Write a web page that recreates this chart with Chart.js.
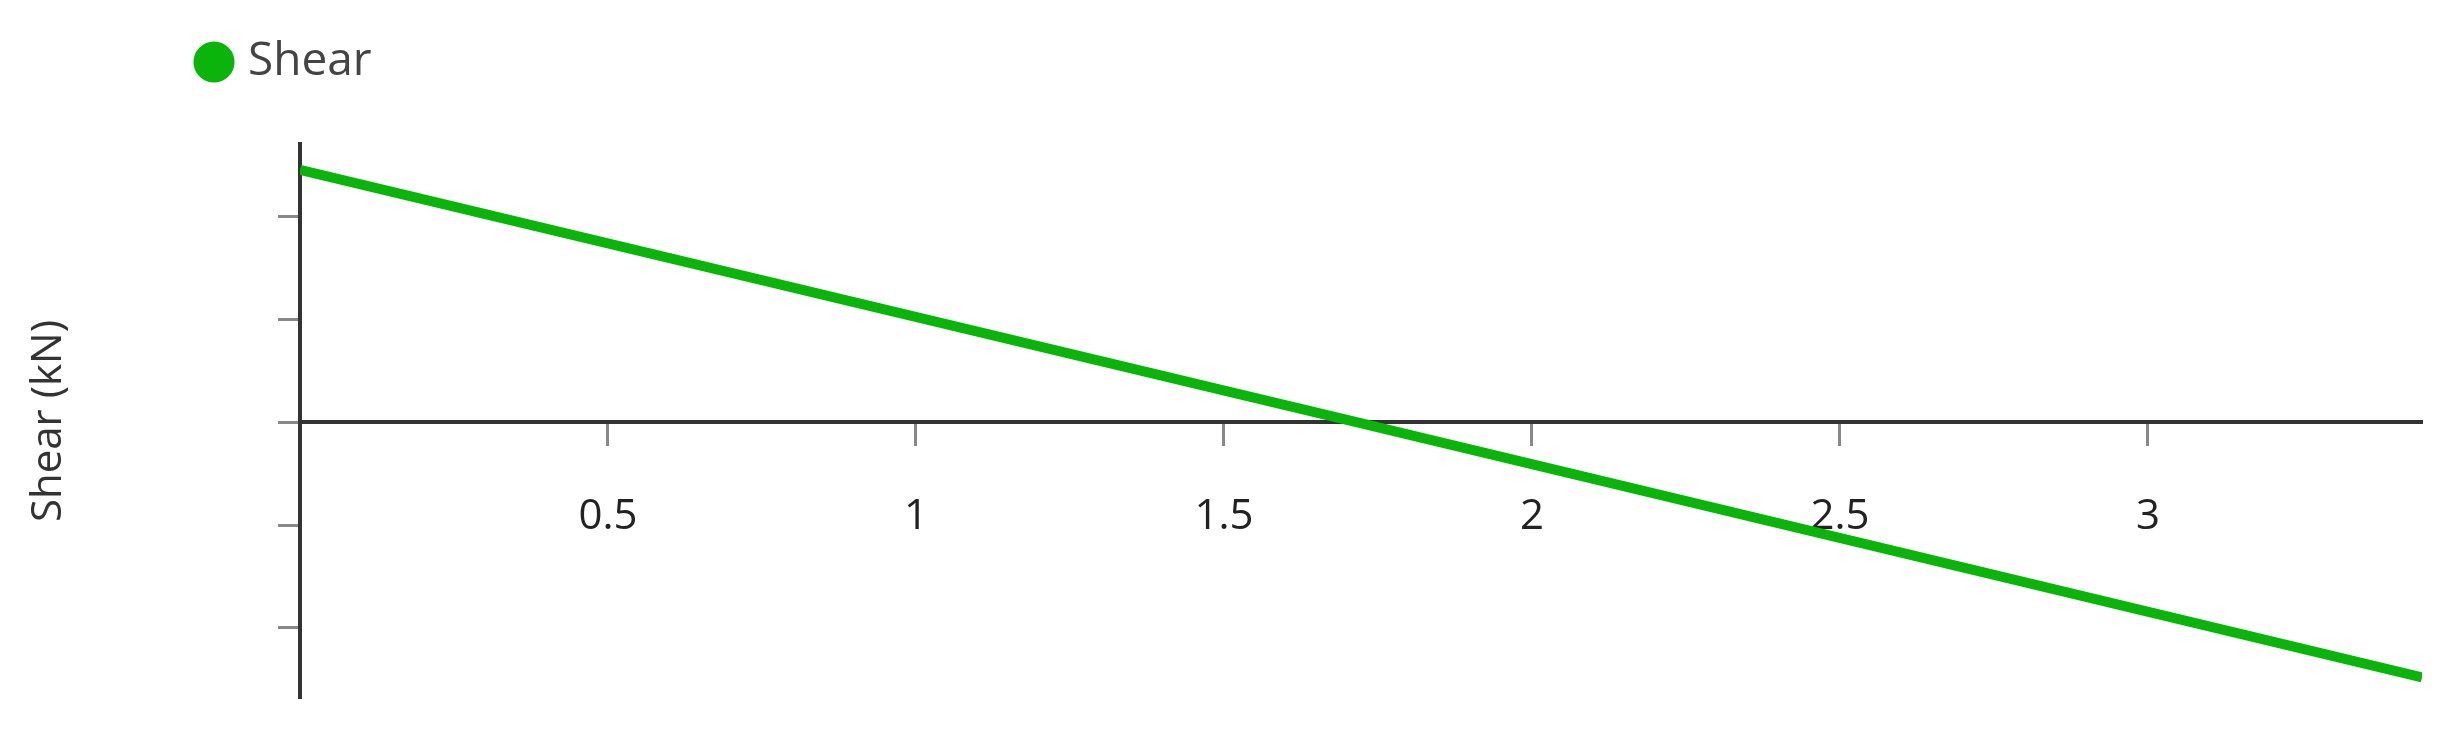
<!DOCTYPE html>
<html>
<head>
<meta charset="utf-8">
<script src="https://cdn.jsdelivr.net/npm/chart.js@4/dist/chart.umd.min.js"></script>
<style>
  html, body { margin: 0; padding: 0; background: #fff; }
  #wrap { width: 2450px; height: 733px; }
</style>
</head>
<body>
<div id="wrap"><canvas id="shearChart" width="2450" height="733"></canvas></div>
<script>
// shear diagram along the beam (x in m, shear in kN)
const positions = [0, 1.715, 3.445];
const shearValues = [24.5, 0, -24.8];
const xTicks = [0.5, 1, 1.5, 2, 2.5, 3];
const seriesName = 'Shear';
const yTitle = 'Shear (kN)';

const green = '#0bb40b';
const font = 'Open Sans';

// move the legend: right and up, away from where the layout puts it
const legendShift = {
  id: 'legendShift',
  afterLayout(chart) {
    chart.legend.left = 183;
    chart.legend.top -= 49;
  }
};

new Chart(document.getElementById('shearChart'), {
  type: 'line',
  data: {
    datasets: [{
      label: seriesName,
      data: positions.map((x, i) => ({ x: x, y: shearValues[i] })),
      borderColor: green,
      backgroundColor: green,
      borderWidth: 10,
      pointRadius: 0,
      tension: 0
    }]
  },
  options: {
    responsive: false,
    animation: false,
    layout: { padding: { left: 0, right: 28, top: 68, bottom: 35 } },
    plugins: {
      tooltip: { enabled: false },
      legend: {
        position: 'top',
        align: 'start',
        labels: {
          usePointStyle: true,
          pointStyle: 'circle',
          boxHeight: 22,
          boxWidth: 22,
          padding: 20,
          color: '#444',
          font: { family: font, size: 46 }
        }
      }
    },
    scales: {
      x: {
        type: 'linear',
        position: { y: 0 },
        z: 1,
        min: 0,
        max: 3.445,
        border: { display: true, color: '#333', width: 4 },
        grid: { drawOnChartArea: false, drawTicks: true, tickLength: 22, tickColor: '#888', tickWidth: 3 },
        ticks: {
          stepSize: 0.5,
          includeBounds: false,
          padding: 48,
          color: '#222',
          maxRotation: 0,
          font: { family: font, size: 42 },
          callback: v => xTicks.includes(v) ? String(v) : ''
        }
      },
      y: {
        type: 'linear',
        min: -26.8,
        max: 27,
        border: { display: true, color: '#333', width: 4 },
        grid: { drawOnChartArea: false, drawTicks: true, tickLength: 22, tickColor: '#888', tickWidth: 3 },
        ticks: { stepSize: 10, includeBounds: false, padding: 0, callback: () => '' },
        title: {
          display: true,
          text: yTitle,
          color: '#333',
          padding: { top: 24, bottom: 0 },
          font: { family: font, size: 42 }
        },
        afterFit: scale => { scale.width = 300; }
      }
    }
  },
  plugins: [legendShift]
});
</script>
</body>
</html>
